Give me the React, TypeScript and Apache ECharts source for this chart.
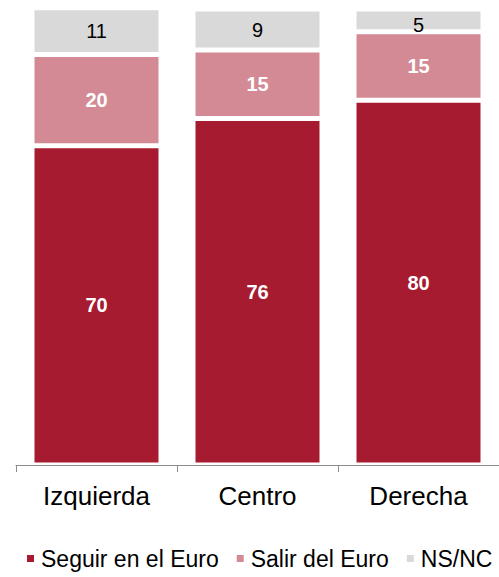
import React, { useEffect, useRef } from "react";
import * as echarts from "echarts";

const categories = ["Izquierda", "Centro", "Derecha"];
const seguir = [70, 76, 80];
const salir = [20, 15, 15];
const nsnc = [11, 9, 5];
const seriesNames = ["Seguir en el Euro", "Salir del Euro", "NS/NC"];

const FONT = "'Liberation Sans', Arial, sans-serif";

export default function App() {
  const ref = useRef<HTMLDivElement>(null);
  useEffect(() => {
    if (!ref.current) return;
    const chart = echarts.init(ref.current, null, { renderer: "svg" });
    const common = {
      type: "bar",
      stack: "total",
      barWidth: 129,
      clip: true,
      itemStyle: { borderColor: "#ffffff", borderWidth: 2.5 },
    };
    chart.setOption({
      animation: false,
      textStyle: { fontFamily: FONT },
      grid: { left: 16, right: 0, top: 9, bottom: 112, containLabel: false },
      legend: {
        top: 542,
        left: 20,
        width: 560,
        icon: "rect",
        itemWidth: 9,
        itemHeight: 9,
        itemGap: 16,
        textStyle: { fontSize: 23, color: "#000", fontFamily: FONT, padding: [0, 0, 0, 1] },
        data: seriesNames,
      },
      xAxis: {
        type: "category",
        data: categories,
        axisLine: { lineStyle: { color: "#8c8c8c", width: 1 } },
        axisTick: { show: true, length: 7, lineStyle: { color: "#8c8c8c" } },
        axisLabel: { fontSize: 26, color: "#000", margin: 18, fontFamily: FONT },
      },
      yAxis: {
        type: "value",
        min: 0,
        max: 100,
        show: false,
        splitLine: { show: false },
      },
      series: [
        {
          ...common,
          name: seriesNames[0],
          data: seguir,
          itemStyle: { ...common.itemStyle, color: "#a61b2f" },
          label: { show: true, position: "inside", color: "#fff", fontWeight: "bold", fontSize: 20, fontFamily: FONT },
        },
        {
          ...common,
          name: seriesNames[1],
          data: salir,
          itemStyle: { ...common.itemStyle, color: "#d38a94" },
          label: { show: true, position: "inside", color: "#fff", fontWeight: "bold", fontSize: 20, fontFamily: FONT },
        },
        {
          ...common,
          name: seriesNames[2],
          data: nsnc.map((v, i) => (i === 2 ? { value: v, label: { offset: [0, 5] } } : v)),
          itemStyle: { ...common.itemStyle, color: "#d9d9d9" },
          label: { show: true, position: "inside", color: "#000", fontSize: 20, fontFamily: FONT },
        },
      ],
    });
    return () => chart.dispose();
  }, []);
  return <div ref={ref} style={{ width: 499, height: 577, position: "absolute", left: 0, top: 0 }} />;
}
